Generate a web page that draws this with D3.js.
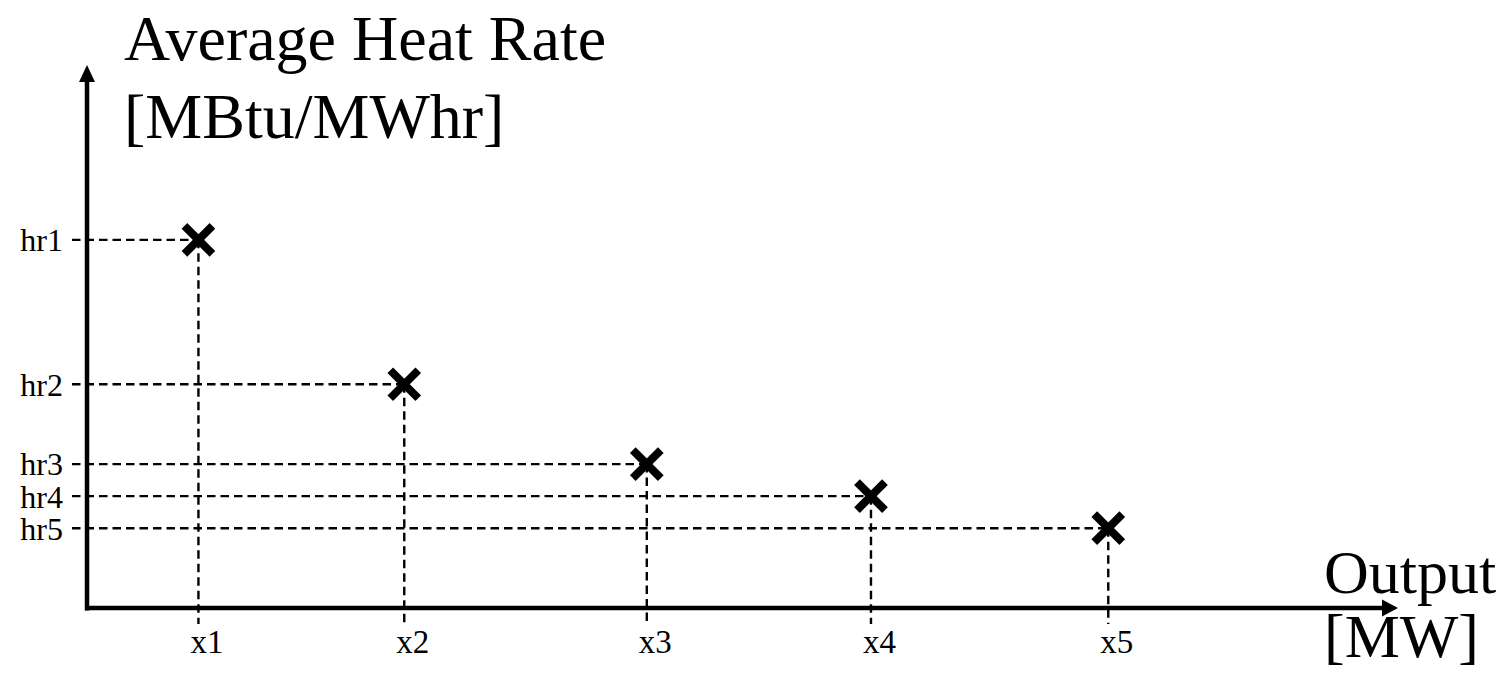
<!DOCTYPE html>
<html>
<head>
<meta charset="utf-8">
<script src="https://cdn.jsdelivr.net/npm/d3@7"></script>
<style>
  html, body { margin: 0; padding: 0; background: #fff; }
  svg { display: block; }
  text { font-family: "Liberation Serif", "Times New Roman", serif; fill: #000; }
</style>
</head>
<body>
<svg id="chart" width="1507" height="677"></svg>
<script>
// ---- data ----
const xLabels = ["x1", "x2", "x3", "x4", "x5"];
const yLabels = ["hr1", "hr2", "hr3", "hr4", "hr5"];
const outputValues = [8.5, 24.2, 42.7, 59.8, 77.9];
const heatRateValues = [67.8, 41.2, 26.5, 20.6, 14.7];
const yTitle = ["Average Heat Rate", "[MBtu/MWhr]"];
const xTitle = ["Output", "[MW]"];

const points = outputValues.map((v, i) => ({ x: v, y: heatRateValues[i], xl: xLabels[i], yl: yLabels[i] }));

const svg = d3.select("#chart");
const ox = 87, oy = 608, xEnd = 1398, yEnd = 65;

const x = d3.scaleLinear().domain([0, 100]).range([ox, xEnd]);
const y = d3.scaleLinear().domain([0, 100]).range([oy, yEnd]);

// dashed guides
const guides = svg.append("g").attr("stroke", "#000").attr("stroke-width", 2.4).attr("stroke-dasharray", "8.5,5").attr("fill", "none");
points.forEach(p => {
  guides.append("line").attr("x1", 72).attr("x2", x(p.x)).attr("y1", y(p.y)).attr("y2", y(p.y));
  guides.append("line").attr("x1", x(p.x)).attr("x2", x(p.x)).attr("y1", y(p.y)).attr("y2", 624);
});

// axes lines with arrows
const axes = svg.append("g");
axes.append("line").attr("x1", ox).attr("x2", ox).attr("y1", oy + 2.5).attr("y2", yEnd + 14)
  .attr("stroke", "#000").attr("stroke-width", 4.5);
axes.append("path").attr("d", `M${ox},${yEnd} L${ox - 8},${yEnd + 17} L${ox + 8},${yEnd + 17} Z`).attr("fill", "#000");
axes.append("line").attr("x1", ox - 2).attr("x2", xEnd - 14).attr("y1", oy).attr("y2", oy)
  .attr("stroke", "#000").attr("stroke-width", 4.5);
axes.append("path").attr("d", `M${xEnd},${oy} L${xEnd - 16},${oy - 8.5} L${xEnd - 16},${oy + 8.5} Z`).attr("fill", "#000");

// tick labels via d3 axes
const yAxis = d3.axisLeft(y).tickValues(heatRateValues).tickFormat((d, i) => yLabels[i]).tickSize(0).tickPadding(0);
const gy = svg.append("g").attr("transform", `translate(63,0)`).call(yAxis);
gy.select(".domain").remove();
gy.selectAll("text").attr("font-size", 32).attr("font-family", "Liberation Serif").attr("dy", "0.34em").attr("fill", "#000");

const xAxis = d3.axisBottom(x).tickValues(outputValues).tickFormat((d, i) => xLabels[i]).tickSize(0).tickPadding(0);
const gx = svg.append("g").attr("transform", `translate(8,0)`).call(xAxis);
gx.select(".domain").remove();
gx.selectAll("text").attr("font-size", 33).attr("font-family", "Liberation Serif").attr("dy", null).attr("y", 653).attr("fill", "#000");

// markers
const mk = svg.append("g").attr("stroke", "#000").attr("stroke-width", 8).attr("stroke-linecap", "butt");
const s = 14;
points.forEach(p => {
  const cx = x(p.x), cy = y(p.y);
  mk.append("line").attr("x1", cx - s).attr("y1", cy - s).attr("x2", cx + s).attr("y2", cy + s);
  mk.append("line").attr("x1", cx - s).attr("y1", cy + s).attr("x2", cx + s).attr("y2", cy - s);
});

// titles
svg.append("text").attr("x", 124).attr("y", 60).attr("font-size", 64).text(yTitle[0]);
svg.append("text").attr("x", 124).attr("y", 138).attr("font-size", 64).text(yTitle[1]);
svg.append("text").attr("x", 1324).attr("y", 593).attr("font-size", 62).text(xTitle[0]);
svg.append("text").attr("x", 1324).attr("y", 657).attr("font-size", 62).text(xTitle[1]);
</script>
</body>
</html>
